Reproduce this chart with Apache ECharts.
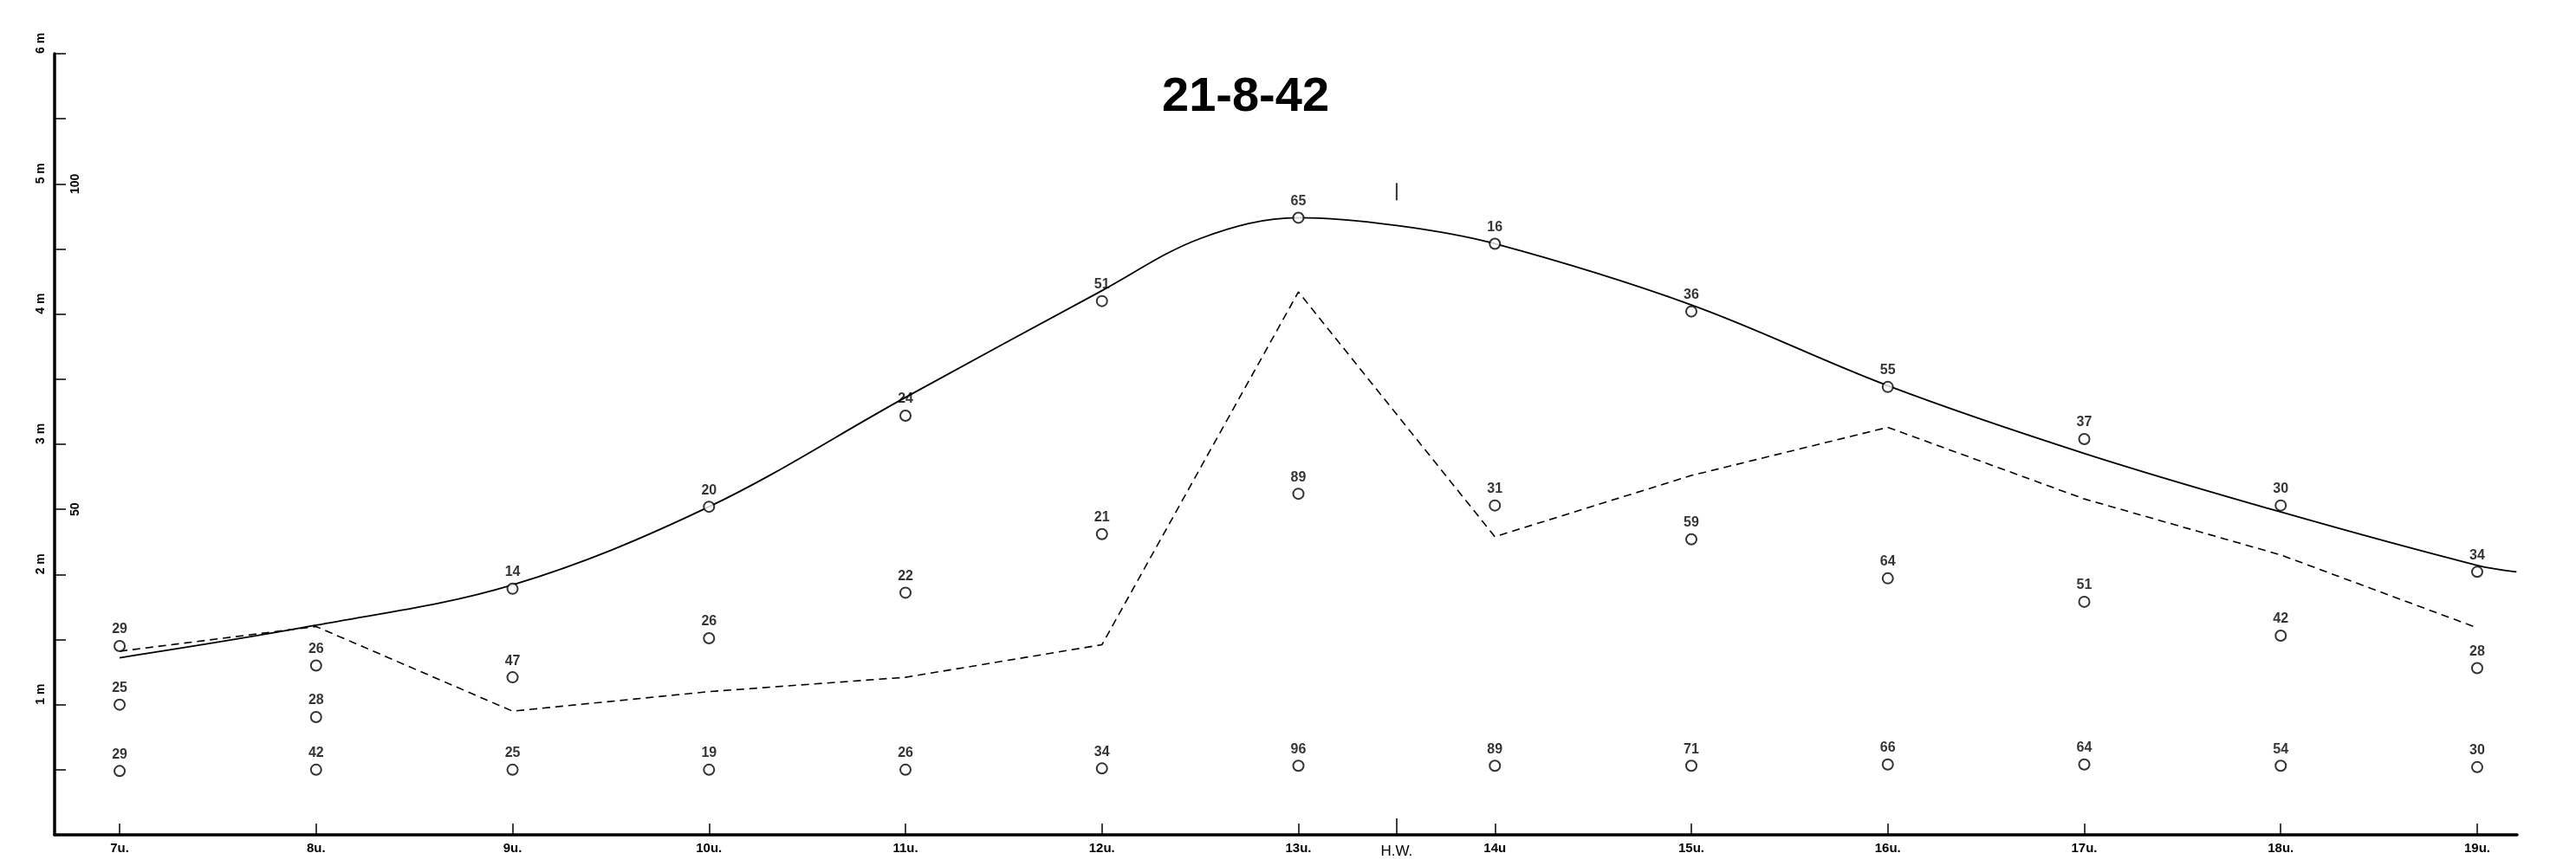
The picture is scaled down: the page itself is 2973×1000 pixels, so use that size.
<!DOCTYPE html>
<html>
<head>
<meta charset="utf-8">
<script src="https://cdn.jsdelivr.net/npm/echarts@6/dist/echarts.min.js"></script>
<style>
  html, body { margin: 0; padding: 0; background: #fff; }
  #chart { width: 2973px; height: 1000px; }
</style>
</head>
<body>
<div id="chart"></div>
<script>
// Hours of the observation day (x axis) and their lettering
const hours = [7, 8, 9, 10, 11, 12, 13, 14, 15, 16, 17, 18, 19];
const hourLabels = ['7u.', '8u.', '9u.', '10u.', '11u.', '12u.', '13u.', '14u', '15u.', '16u.', '17u.', '18u.', '19u.'];

// High-water time marker
const highWaterHour = [13.5];
const highWaterLabel = 'H.W.';
const highWaterFlag = [[13.5, 4.94]];

// Water-level scale (m) and the secondary scale
const meterTicks = [0.5, 1, 1.5, 2, 2.5, 3, 3.5, 4, 4.5, 5, 5.5, 6];
const meterLabels = [1, 2, 3, 4, 5, 6];
const percentLabels = [50, 100];

// Measured points, three rows per hour (level in m) with their counts
const rowA = [1.45, 1.30, 1.89, 2.52, 3.22, 4.10, 4.74, 4.54, 4.02, 3.44, 3.04, 2.53, 2.02];
const rowALabels = ['29', '26', '14', '20', '24', '51', '65', '16', '36', '55', '37', '30', '34'];
const rowB = [1.00, 0.905, 1.21, 1.51, 1.86, 2.31, 2.62, 2.53, 2.27, 1.97, 1.79, 1.53, 1.28];
const rowBLabels = ['25', '28', '47', '26', '22', '21', '89', '31', '59', '64', '51', '42', '28'];
const rowC = [0.49, 0.50, 0.50, 0.50, 0.50, 0.51, 0.53, 0.53, 0.53, 0.54, 0.54, 0.53, 0.52];
const rowCLabels = ['29', '42', '25', '19', '26', '34', '96', '89', '71', '66', '64', '54', '30'];

// Smoothed tide curve (solid)
const curveHours = [7, 8, 9, 10, 11, 12, 12.5, 13, 13.5, 14, 15, 16, 17, 18, 19, 19.2];
const curveLevels = [1.36, 1.61, 1.92, 2.52, 3.36, 4.18, 4.58, 4.74, 4.68, 4.54, 4.07, 3.45, 2.93, 2.48, 2.07, 2.02];

// Second curve (dashed)
const dashHours = [7, 8, 9, 10, 11, 12, 13, 14, 15, 16, 17, 18, 19];
const dashLevels = [1.41, 1.60, 0.95, 1.10, 1.21, 1.46, 4.17, 2.29, 2.76, 3.13, 2.58, 2.15, 1.59];

const FONT = "'Liberation Sans', Arial, sans-serif";
const pairs = (xs, ys) => xs.map((x, i) => [x, ys[i]]);

function pointRow(values, labels) {
  return {
    type: 'scatter',
    z: 5,
    symbol: 'circle',
    symbolSize: 12,
    itemStyle: { color: '#fff', borderColor: '#000', borderWidth: 2 },
    label: {
      show: true,
      position: 'top',
      distance: 4,
      color: '#000',
      fontFamily: FONT,
      fontWeight: 'bold',
      fontSize: 16,
      formatter: p => labels[p.dataIndex]
    },
    data: pairs(hours, values)
  };
}

const chart = echarts.init(document.getElementById('chart'), null, { renderer: 'canvas' });
chart.setOption({
  animation: false,
  backgroundColor: '#fff',
  title: {
    text: '21-8-42',
    left: 1336,
    top: 80,
    textStyle: { fontFamily: FONT, fontSize: 56, fontWeight: 'bold', color: '#000' }
  },
  grid: { left: 63, right: 68, top: 62, bottom: 36, containLabel: false },
  xAxis: [
    {
      type: 'value',
      min: 6.669,
      max: 19.203,
      position: 'bottom',
      splitLine: { show: false },
      axisLine: { show: true, lineStyle: { color: '#000', width: 3.5 } },
      axisTick: {
        show: true, inside: true, length: 13, customValues: hours,
        lineStyle: { color: '#000', width: 1.5 }
      },
      axisLabel: {
        show: true, customValues: hours, margin: 8,
        color: '#000', fontFamily: FONT, fontWeight: 'bold', fontSize: 15,
        formatter: v => hourLabels[hours.indexOf(v)]
      }
    },
    {
      type: 'value',
      min: 6.669,
      max: 19.203,
      position: 'bottom',
      splitLine: { show: false },
      axisLine: { show: false },
      axisTick: {
        show: true, inside: true, length: 19, customValues: highWaterHour,
        lineStyle: { color: '#000', width: 1.5 }
      },
      axisLabel: {
        show: true, customValues: highWaterHour, margin: 11,
        color: '#000', fontFamily: FONT, fontSize: 17,
        formatter: () => highWaterLabel
      }
    }
  ],
  yAxis: [
    {
      type: 'value',
      min: 0,
      max: 6,
      position: 'left',
      splitLine: { show: false },
      axisLine: { show: true, lineStyle: { color: '#000', width: 3.5 } },
      axisTick: {
        show: true, inside: true, length: 13, customValues: meterTicks,
        lineStyle: { color: '#000', width: 1.5 }
      },
      axisLabel: {
        show: true, customValues: meterLabels, margin: 16, rotate: 90,
        align: 'left', verticalAlign: 'middle',
        color: '#000', fontFamily: FONT, fontWeight: 'bold', fontSize: 14,
        formatter: v => v + ' m'
      }
    },
    {
      type: 'value',
      min: 0,
      max: 120,
      position: 'left',
      splitLine: { show: false },
      axisLine: { show: false },
      axisTick: { show: false },
      axisLabel: {
        show: true, inside: true, customValues: percentLabels, margin: 24, rotate: 90,
        align: 'center', verticalAlign: 'middle',
        color: '#000', fontFamily: FONT, fontWeight: 'bold', fontSize: 14
      }
    }
  ],
  series: [
    {
      type: 'line',
      z: 3,
      smooth: 0.35,
      symbol: 'none',
      lineStyle: { color: '#000', width: 1.8 },
      data: pairs(curveHours, curveLevels)
    },
    {
      type: 'line',
      z: 3,
      smooth: false,
      symbol: 'none',
      lineStyle: { color: '#000', width: 1.6, type: [9, 6] },
      data: pairs(dashHours, dashLevels)
    },
    pointRow(rowA, rowALabels),
    pointRow(rowB, rowBLabels),
    pointRow(rowC, rowCLabels),
    {
      type: 'scatter',
      z: 4,
      symbol: 'rect',
      symbolSize: [2, 20],
      itemStyle: { color: '#000' },
      data: highWaterFlag
    }
  ]
});
</script>
</body>
</html>
